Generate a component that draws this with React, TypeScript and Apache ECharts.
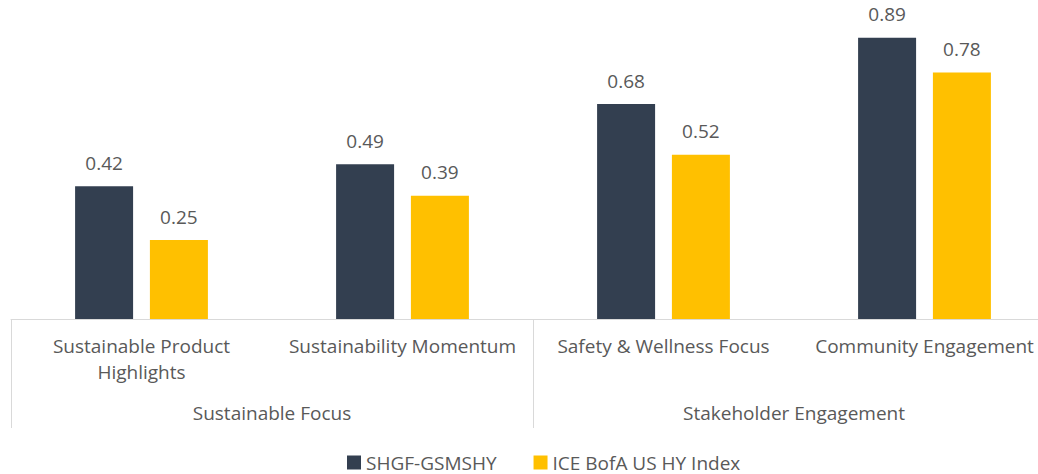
import React, { useEffect, useRef } from "react";
import * as echarts from "echarts";

const categories = [
  "Sustainable Product\nHighlights",
  "Sustainability Momentum",
  "Safety & Wellness Focus",
  "Community Engagement",
];
const groups = ["Sustainable Focus", "Stakeholder Engagement"];
const seriesNames = ["SHGF-GSMSHY", "ICE BofA US HY Index"];
const shgfValues = [0.42, 0.49, 0.68, 0.89];
const iceValues = [0.25, 0.39, 0.52, 0.78];
const colors = ["#333F50", "#FFC000"];

const FONT = "Open Sans";
const TEXT = "#595959";
const LINE = "#D9D9D9";

export default function App() {
  const ref = useRef<HTMLDivElement>(null);
  useEffect(() => {
    if (!ref.current) return;
    const chart = echarts.init(ref.current, undefined, { renderer: "svg" });
    const labelStyle = {
      show: true,
      position: "top" as const,
      distance: 14,
      color: TEXT,
      fontSize: 19,
      fontFamily: FONT,
      formatter: (p: any) => p.value.toFixed(2),
    };
    chart.setOption({
      animation: false,
      textStyle: { fontFamily: FONT },
      grid: { left: 11, top: 3, width: 1044, height: 316, containLabel: false },
      legend: {
        left: 342,
        top: 448,
        itemWidth: 14,
        itemHeight: 14,
        itemGap: 37,
        icon: "rect",
        textStyle: { color: TEXT, fontSize: 19, fontFamily: FONT },
        data: seriesNames,
      },
      xAxis: [
        {
          type: "category",
          data: categories,
          position: "bottom",
          axisLine: { show: true, lineStyle: { color: LINE, width: 1 } },
          axisTick: { show: false },
          axisLabel: {
            color: TEXT,
            fontSize: 19,
            fontFamily: FONT,
            margin: 14,
            lineHeight: 26,
            interval: 0,
          },
        },
        {
          type: "category",
          data: groups,
          position: "bottom",
          axisLine: { show: false },
          axisTick: { show: true, length: 109, lineStyle: { color: LINE, width: 1 } },
          axisLabel: {
            color: TEXT,
            fontSize: 19,
            fontFamily: FONT,
            margin: 84,
            interval: 0,
          },
        },
      ],
      yAxis: {
        type: "value",
        min: 0,
        max: 1,
        show: false,
        splitLine: { show: false },
      },
      series: [
        {
          name: seriesNames[0],
          type: "bar",
          data: shgfValues,
          barWidth: 58,
          barGap: "29%",
          itemStyle: { color: colors[0] },
          label: labelStyle,
        },
        {
          name: seriesNames[1],
          type: "bar",
          data: iceValues,
          barWidth: 58,
          barGap: "29%",
          itemStyle: { color: colors[1] },
          label: labelStyle,
        },
      ],
    });
    return () => chart.dispose();
  }, []);
  return (
    <div
      style={{ position: "absolute", left: 0, top: 0, width: 1038, height: 474, overflow: "hidden", background: "#fff" }}
    >
      <div ref={ref} style={{ width: 1060, height: 474 }} />
    </div>
  );
}
